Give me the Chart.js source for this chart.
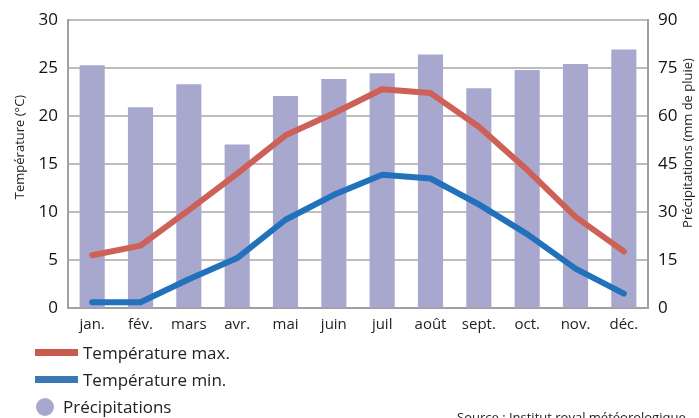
<!DOCTYPE html>
<html>
<head>
<meta charset="utf-8">
<script src="https://cdn.jsdelivr.net/npm/chart.js@4"></script>
<style>
  html, body { margin: 0; padding: 0; background: #fff; overflow: hidden; }
  #wrap { position: relative; width: 699px; height: 418px; font-family: "Open Sans", sans-serif; color: #222; }
  canvas { position: absolute; left: 0; top: 0; }
  .leg { position: absolute; font-size: 17px; line-height: 20px; white-space: nowrap; }
  .sw { position: absolute; }
  #source { position: absolute; left: 457px; top: 408px; font-size: 13px; white-space: nowrap; }
</style>
</head>
<body>
<div id="wrap">
  <canvas id="climate_chart" width="699" height="418"></canvas>
  <div class="sw" style="left:35px;top:349px;width:43px;height:7px;background:#c95a50"></div>
  <div class="leg" style="left:83px;top:343px">Température max.</div>
  <div class="sw" style="left:35px;top:376px;width:43px;height:7px;background:#3a78b5"></div>
  <div class="leg" style="left:83px;top:370px">Température min.</div>
  <div class="sw" style="left:36px;top:398px;width:18px;height:18px;border-radius:50%;background:#a8a8cf"></div>
  <div class="leg" style="left:63px;top:397px">Précipitations</div>
  <div id="source">Source : Institut royal météorologique</div>
</div>
<script>
// données
const months = ["jan.", "fév.", "mars", "avr.", "mai", "juin", "juil", "août", "sept.", "oct.", "nov.", "déc."];
const tempMax = [5.5, 6.5, 10.2, 14.0, 18.0, 20.3, 22.8, 22.4, 18.9, 14.4, 9.5, 5.9];
const tempMin = [0.6, 0.6, 3.0, 5.2, 9.2, 11.8, 13.9, 13.5, 10.8, 7.7, 4.1, 1.5];
const precip = [75.9, 62.8, 70.0, 51.1, 66.3, 71.6, 73.4, 79.3, 68.7, 74.4, 76.3, 80.8];
const tempTicks = [0, 5, 10, 15, 20, 25, 30];
const precipTicks = [0, 15, 30, 45, 60, 75, 90];

const font = "'Open Sans', sans-serif";
const gridColor = "#bdbdbd";

// titres des axes, les deux lus de bas en haut
const axisTitles = {
  id: "axisTitles",
  afterDraw(chart) {
    const c = chart.ctx;
    c.save();
    c.fillStyle = "#222";
    c.font = "13px " + font;
    c.textAlign = "center";
    c.textBaseline = "middle";
    [["Température (°C)", 20, 147], ["Précipitations (mm de pluie)", 688, 143]].forEach(([txt, x, y]) => {
      c.save();
      c.translate(x, y);
      c.rotate(-Math.PI / 2);
      c.fillText(txt, 0, 0);
      c.restore();
    });
    c.restore();
  }
};

const ctx = document.getElementById("climate_chart");

new Chart(ctx, {
  data: {
    labels: months,
    datasets: [
      {
        type: "line",
        label: "Température max.",
        data: tempMax,
        yAxisID: "y",
        borderColor: "#cd6157",
        borderWidth: 6,
        borderCapStyle: "round",
        borderJoinStyle: "round",
        pointRadius: 0,
        tension: 0,
        order: 1
      },
      {
        type: "line",
        label: "Température min.",
        data: tempMin,
        yAxisID: "y",
        borderColor: "#2172bb",
        borderWidth: 6,
        borderCapStyle: "round",
        borderJoinStyle: "round",
        pointRadius: 0,
        tension: 0,
        order: 0
      },
      {
        type: "bar",
        label: "Précipitations",
        data: precip,
        yAxisID: "y1",
        backgroundColor: "#a8a8cf",
        categoryPercentage: 1,
        barPercentage: 0.52,
        order: 2
      }
    ]
  },
  options: {
    responsive: false,
    animation: false,
    layout: { padding: { top: 9, bottom: 76, left: 0, right: 0 } },
    plugins: {
      legend: { display: false },
      tooltip: { enabled: false }
    },
    scales: {
      x: {
        grid: { display: false, drawTicks: false },
        border: { color: "#a0a0a0", width: 2 },
        ticks: { color: "#222", font: { family: font, size: 15 }, padding: 8, maxRotation: 0 },
        afterFit: (s) => { s.height = 34; }
      },
      y: {
        position: "left",
        min: 0,
        max: 30,
        afterBuildTicks: (s) => { s.ticks = tempTicks.map((v) => ({ value: v })); },
        grid: { color: gridColor, lineWidth: 2, drawTicks: false },
        border: { color: "#a0a0a0", width: 2 },
        ticks: { color: "#111", font: { family: font, size: 17 }, padding: 10 },
        afterFit: (s) => { s.width = 68; }
      },
      y1: {
        position: "right",
        min: 0,
        max: 90,
        afterBuildTicks: (s) => { s.ticks = precipTicks.map((v) => ({ value: v })); },
        grid: { drawOnChartArea: false, drawTicks: false },
        border: { color: "#a0a0a0", width: 2 },
        ticks: { color: "#111", font: { family: font, size: 17 }, padding: 10 },
        afterFit: (s) => { s.width = 51; }
      }
    }
  },
  plugins: [axisTitles]
});
</script>
</body>
</html>
